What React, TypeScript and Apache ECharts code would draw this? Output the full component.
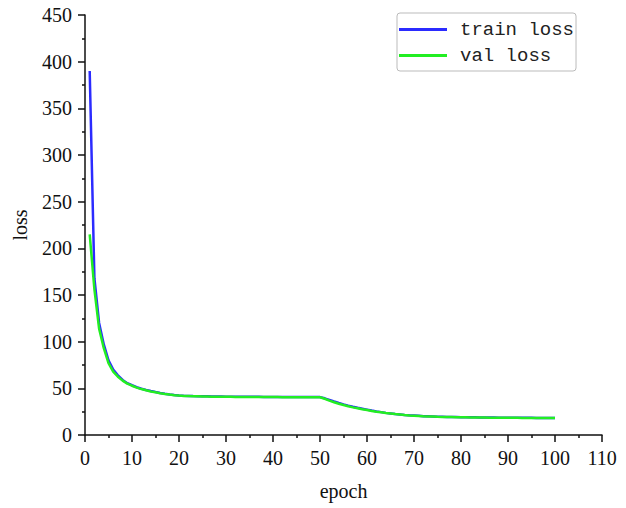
import React, { useEffect, useRef } from "react";
import * as echarts from "echarts";

const epochs: number[] = Array.from({ length: 100 }, (_, i) => i + 1);

const trainLoss: number[] = [
  390, 168, 120, 97, 80, 70, 64, 59, 55.5, 53.3,
  51.2, 49.6, 48.3, 47.1, 46.0, 45.0, 44.2, 43.5, 42.9, 42.4,
  42.1, 41.9, 41.7, 41.6, 41.5, 41.4, 41.3, 41.2, 41.2, 41.1,
  41.1, 41.0, 41.0, 41.0, 40.9, 40.9, 40.9, 40.8, 40.8, 40.8,
  40.8, 40.7, 40.7, 40.7, 40.7, 40.6, 40.6, 40.6, 40.6, 40.6,
  39.3, 37.6, 35.9, 34.3, 32.8, 31.5, 30.3, 29.2, 28.2, 27.2,
  26.2, 25.3, 24.5, 23.7, 23.1, 22.5, 22.0, 21.5, 21.1, 20.8,
  20.5, 20.2, 20.0, 19.8, 19.6, 19.5, 19.4, 19.3, 19.2, 19.1,
  19.0, 18.9, 18.9, 18.8, 18.8, 18.7, 18.7, 18.6, 18.6, 18.5,
  18.5, 18.5, 18.4, 18.4, 18.4, 18.3, 18.3, 18.3, 18.3, 18.3,
];

const valLoss: number[] = [
  215, 156, 114, 93, 77, 68, 62.5, 58.3, 55, 52.8,
  50.8, 49.2, 47.9, 46.7, 45.7, 44.8, 44.0, 43.3, 42.7, 42.2,
  41.9, 41.7, 41.5, 41.4, 41.3, 41.2, 41.1, 41.0, 41.0, 40.9,
  40.9, 40.8, 40.8, 40.8, 40.7, 40.7, 40.7, 40.6, 40.6, 40.6,
  40.6, 40.5, 40.5, 40.5, 40.5, 40.4, 40.4, 40.4, 40.4, 40.4,
  38.8, 36.9, 35.1, 33.5, 32.1, 30.8, 29.6, 28.6, 27.6, 26.7,
  25.8, 25.0, 24.3, 23.6, 23.0, 22.4, 21.9, 21.4, 21.0, 20.7,
  20.4, 20.1, 19.9, 19.7, 19.5, 19.4, 19.3, 19.2, 19.1, 19.0,
  18.9, 18.8, 18.8, 18.7, 18.7, 18.6, 18.6, 18.5, 18.5, 18.4,
  18.4, 18.4, 18.3, 18.3, 18.3, 18.2, 18.2, 18.2, 18.2, 18.2,
];

const seriesNames = ["train loss", "val loss"];
const serif = "'Liberation Serif', 'DejaVu Serif', serif";
const axisColor = "#111";

export default function App() {
  const ref = useRef<HTMLDivElement>(null);
  useEffect(() => {
    if (!ref.current) return;
    const chart = echarts.init(ref.current, null, { renderer: "svg" });
    const axisCommon = {
      axisLine: { show: true, onZero: false, lineStyle: { color: axisColor, width: 1.5 } },
      axisTick: { show: true, inside: false, length: 7, lineStyle: { color: axisColor, width: 1.5 } },
      minorTick: { show: true, splitNumber: 2, length: 3, lineStyle: { color: axisColor, width: 1.5 } },
      splitLine: { show: false },
      axisLabel: { color: axisColor, fontFamily: serif, fontSize: 20, margin: 13 },
      nameTextStyle: { color: axisColor, fontFamily: serif, fontSize: 20 },
    };
    chart.setOption({
      animation: false,
      backgroundColor: "#fff",
      grid: { left: 85, right: 24, top: 15, bottom: 73 },
      legend: {
        orient: "vertical",
        left: 397,
        top: 13,
        padding: [7, 2, 6, 2],
        borderColor: "#bbb",
        borderWidth: 1,
        borderRadius: 3,
        icon: "rect",
        itemWidth: 48,
        itemHeight: 3,
        itemGap: 7,
        textStyle: {
          fontFamily: "'Liberation Mono', 'DejaVu Sans Mono', monospace",
          fontSize: 19,
          color: "#222",
          padding: [0, 0, 0, 8],
        },
        data: seriesNames,
      },
      xAxis: {
        type: "value",
        min: 0,
        max: 110,
        interval: 10,
        name: "epoch",
        nameLocation: "middle",
        nameGap: 46,
        ...axisCommon,
      },
      yAxis: {
        type: "value",
        min: 0,
        max: 450,
        interval: 50,
        name: "loss",
        nameLocation: "middle",
        nameGap: 55,
        ...axisCommon,
      },
      series: [
        {
          name: seriesNames[0],
          type: "line",
          data: epochs.map((e, i) => [e, trainLoss[i]]),
          symbol: "none",
          lineStyle: { color: "#2b2bff", width: 2.5 },
          itemStyle: { color: "#2b2bff" },
        },
        {
          name: seriesNames[1],
          type: "line",
          data: epochs.map((e, i) => [e, valLoss[i]]),
          symbol: "none",
          lineStyle: { color: "#22ee22", width: 2.5 },
          itemStyle: { color: "#22ee22" },
        },
      ],
    });
    return () => chart.dispose();
  }, []);
  return <div ref={ref} style={{ width: 626, height: 508, position: "absolute", left: 0, top: 0 }} />;
}
